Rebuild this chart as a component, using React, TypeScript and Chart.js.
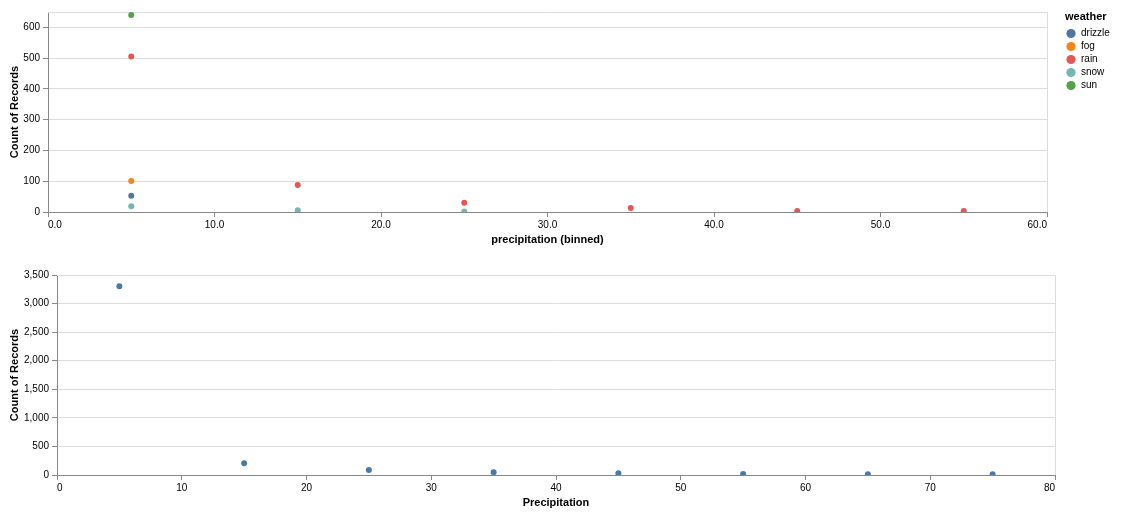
import React, { useEffect, useRef } from "react";
import { Chart, registerables } from "chart.js";

Chart.register(...registerables);

// ---- Data (top chart: counts per precipitation bin, by weather) ----
const weatherTypes = ["drizzle", "fog", "rain", "snow", "sun"];
const weatherColors = ["#4c78a8", "#f58518", "#e45756", "#72b7b2", "#54a24b"];
const drizzleBins = [5];
const drizzleCounts = [53];
const fogBins = [5];
const fogCounts = [101];
const rainBins = [5, 15, 25, 35, 45, 55];
const rainCounts = [505, 88, 30, 13, 3, 3];
const snowBins = [5, 15, 25];
const snowCounts = [19, 6, 2];
const sunBins = [5];
const sunCounts = [640];
const topXTicks = [0, 10, 20, 30, 40, 50, 60];
const topYTicks = [0, 100, 200, 300, 400, 500, 600];

// ---- Data (bottom chart) ----
const precipBins = [5, 15, 25, 35, 45, 55, 65, 75];
const precipCounts = [3302, 205, 87, 47, 29, 17, 12, 12];
const bottomXTicks = [0, 10, 20, 30, 40, 50, 60, 70, 80];
const bottomYTicks = [0, 500, 1000, 1500, 2000, 2500, 3000, 3500];

const FONT = "'Liberation Sans', Arial, Helvetica, sans-serif";

const toPoints = (xs: number[], ys: number[]) => xs.map((x, i) => ({ x, y: ys[i] }));

const viewBorder = {
  id: "viewBorder",
  beforeDatasetsDraw(chart: any) {
    const { ctx, chartArea } = chart;
    ctx.save();
    ctx.strokeStyle = "#ddd";
    ctx.lineWidth = 1;
    ctx.beginPath();
    ctx.moveTo(Math.round(chartArea.left), Math.round(chartArea.top) + 0.5);
    ctx.lineTo(Math.round(chartArea.right) + 0.5, Math.round(chartArea.top) + 0.5);
    ctx.lineTo(Math.round(chartArea.right) + 0.5, Math.round(chartArea.bottom));
    ctx.stroke();
    ctx.restore();
  },
};

const weatherLegend = {
  id: "weatherLegend",
  afterDraw(chart: any) {
    const { ctx } = chart;
    ctx.save();
    ctx.textBaseline = "middle";
    ctx.textAlign = "left";
    ctx.fillStyle = "#000";
    ctx.font = `bold 11px ${FONT}`;
    ctx.fillText("weather", 1065, 17);
    ctx.font = `10px ${FONT}`;
    weatherTypes.forEach((name, i) => {
      const y = 33.5 + i * 13;
      ctx.beginPath();
      ctx.arc(1071, y, 4.6, 0, Math.PI * 2);
      ctx.fillStyle = weatherColors[i];
      ctx.fill();
      ctx.fillStyle = "#000";
      ctx.fillText(name, 1081, y);
    });
    ctx.restore();
  },
};

function makeScales(opts: {
  xMax: number;
  yMax: number;
  xTicks: number[];
  yTicks: number[];
  xTitle: string;
  yWidth: number;
  xFmt: (v: number) => string;
  yFmt: (v: number) => string;
}) {
  return {
    x: {
      type: "linear" as const,
      min: 0,
      max: opts.xMax,
      afterBuildTicks: (scale: any) => {
        scale.ticks = opts.xTicks.map((v) => ({ value: v }));
      },
      afterFit: (scale: any) => {
        scale.height = 36;
      },
      grid: { drawOnChartArea: false, drawTicks: true, tickLength: 5, tickColor: "#888" },
      border: { color: "#888" },
      ticks: {
        font: { size: 10, family: FONT },
        color: "#000",
        padding: 2,
        align: "inner" as const,
        maxRotation: 0,
        autoSkip: false,
        callback: (v: any) => opts.xFmt(Number(v)),
      },
      title: {
        display: true,
        text: opts.xTitle,
        font: { size: 11, weight: "bold" as const, family: FONT },
        color: "#000",
        padding: { top: 0, bottom: 1 },
      },
    },
    y: {
      type: "linear" as const,
      min: 0,
      max: opts.yMax,
      afterBuildTicks: (scale: any) => {
        scale.ticks = opts.yTicks.map((v) => ({ value: v }));
      },
      afterFit: (scale: any) => {
        scale.width = opts.yWidth;
      },
      grid: { color: "#ddd", drawTicks: true, tickLength: 5, tickColor: "#888" },
      border: { color: "#888" },
      ticks: {
        font: { size: 10, family: FONT },
        color: "#000",
        padding: 3,
        autoSkip: false,
        callback: (v: any) => opts.yFmt(Number(v)),
      },
      title: {
        display: true,
        text: "Count of Records",
        font: { size: 11, weight: "bold" as const, family: FONT },
        color: "#000",
        padding: { top: 8, bottom: 0 },
      },
    },
  };
}

export default function App() {
  const topRef = useRef<HTMLCanvasElement>(null);
  const botRef = useRef<HTMLCanvasElement>(null);

  useEffect(() => {
    Chart.defaults.font.family = FONT;
    Chart.defaults.color = "#000";

    const seriesBins = [drizzleBins, fogBins, rainBins, snowBins, sunBins];
    const seriesCounts = [drizzleCounts, fogCounts, rainCounts, snowCounts, sunCounts];

    const top = new Chart(topRef.current!, {
      type: "scatter",
      data: {
        datasets: weatherTypes.map((name, i) => ({
          label: name,
          data: toPoints(seriesBins[i], seriesCounts[i]),
          backgroundColor: weatherColors[i],
          borderWidth: 0,
          pointRadius: 3,
          pointHoverRadius: 3,
        })),
      },
      options: {
        responsive: false,
        animation: false,
        layout: { padding: { left: 0, right: 78, top: 12, bottom: 12 } },
        plugins: { legend: { display: false }, tooltip: { enabled: false } },
        scales: makeScales({
          xMax: 60,
          yMax: 650,
          xTicks: topXTicks,
          yTicks: topYTicks,
          xTitle: "precipitation (binned)",
          yWidth: 48,
          xFmt: (v) => v.toFixed(1),
          yFmt: (v) => String(v),
        }) as any,
      },
      plugins: [viewBorder, weatherLegend],
    });

    const bot = new Chart(botRef.current!, {
      type: "scatter",
      data: {
        datasets: [
          {
            label: "count",
            data: toPoints(precipBins, precipCounts),
            backgroundColor: "#4c78a8",
            borderWidth: 0,
            pointRadius: 3,
            pointHoverRadius: 3,
          },
        ],
      },
      options: {
        responsive: false,
        animation: false,
        layout: { padding: { left: 0, right: 70, top: 15, bottom: 9 } },
        plugins: { legend: { display: false }, tooltip: { enabled: false } },
        scales: makeScales({
          xMax: 80,
          yMax: 3500,
          xTicks: bottomXTicks,
          yTicks: bottomYTicks,
          xTitle: "Precipitation",
          yWidth: 57,
          xFmt: (v) => String(v),
          yFmt: (v) => v.toLocaleString("en-US"),
        }) as any,
      },
      plugins: [viewBorder],
    });

    return () => {
      top.destroy();
      bot.destroy();
    };
  }, []);

  return (
    <div style={{ position: "fixed", left: 0, top: 0, width: 1125, height: 520, background: "#fff" }}>
      <div style={{ position: "absolute", left: 0, top: 0, width: 1125, height: 260 }}>
        <canvas ref={topRef} width={1125} height={260} style={{ display: "block" }} />
      </div>
      <div style={{ position: "absolute", left: 0, top: 260, width: 1125, height: 260 }}>
        <canvas ref={botRef} width={1125} height={260} style={{ display: "block" }} />
      </div>
    </div>
  );
}
